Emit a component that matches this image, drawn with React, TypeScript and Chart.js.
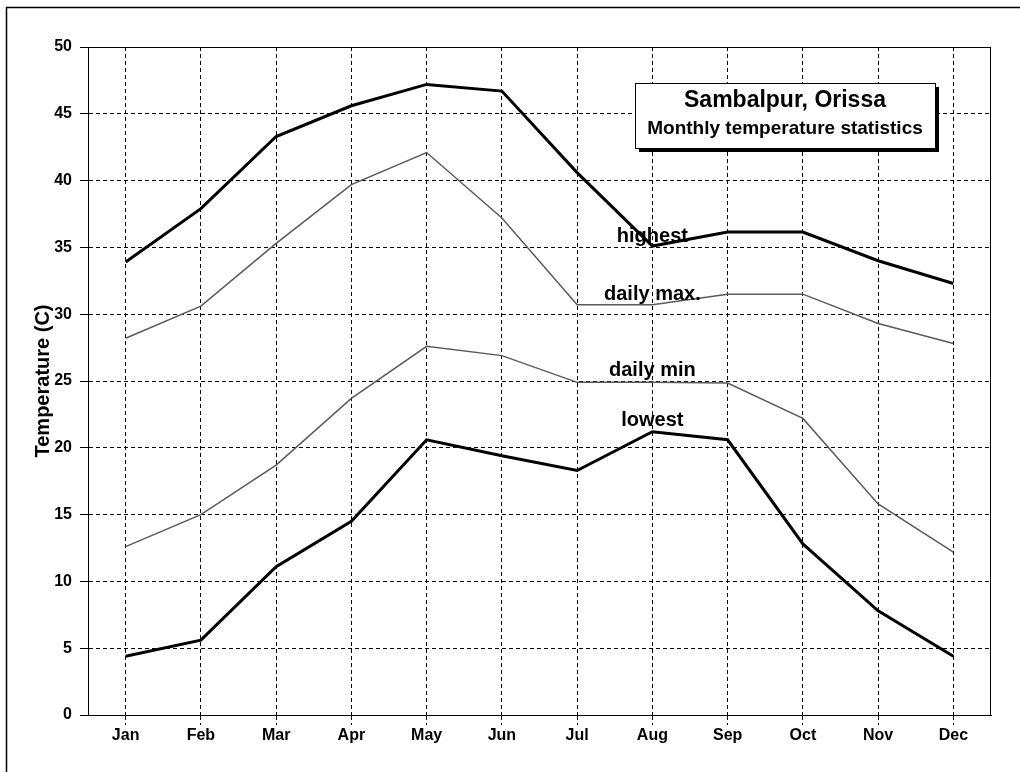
import React, { useEffect, useRef } from "react";
import { Chart, registerables } from "chart.js";

Chart.register(...registerables);

const months = ["Jan", "Feb", "Mar", "Apr", "May", "Jun", "Jul", "Aug", "Sep", "Oct", "Nov", "Dec"];
const highest = [33.9, 37.9, 43.3, 45.6, 47.2, 46.7, 40.6, 35.1, 36.15, 36.15, 34.0, 32.3];
const dailyMax = [28.2, 30.6, 35.3, 39.7, 42.1, 37.2, 30.7, 30.7, 31.5, 31.5, 29.3, 27.8];
const dailyMin = [12.6, 15.0, 18.7, 23.7, 27.6, 26.9, 24.9, 24.9, 24.85, 22.2, 15.8, 12.2];
const lowest = [4.4, 5.6, 11.1, 14.5, 20.6, 19.4, 18.3, 21.2, 20.6, 12.8, 7.8, 4.4];

const seriesNames = ["highest", "daily max.", "daily min", "lowest"];
const seriesLabelValues = [35.4, 31.1, 25.4, 21.6];
const seriesLabelMonth = "Aug";

const yMin = 0;
const yMax = 50;
const yStep = 5;

const titleText = "Sambalpur, Orissa";
const subtitleText = "Monthly temperature statistics";
const yAxisTitle = "Temperature (C)";

const FONT = "'Liberation Sans', Arial, sans-serif";

const decorPlugin = {
  id: "decor",
  beforeDraw(chart: any) {
    const ctx = chart.ctx;
    ctx.save();
    ctx.fillStyle = "#ffffff";
    ctx.fillRect(0, 0, chart.width, chart.height);
    ctx.strokeStyle = "#000000";
    ctx.lineWidth = 1.5;
    ctx.beginPath();
    ctx.moveTo(6.5, chart.height);
    ctx.lineTo(6.5, 7.5);
    ctx.lineTo(chart.width, 7.5);
    ctx.stroke();
    ctx.restore();
  },
  beforeDatasetsDraw(chart: any) {
    const ctx = chart.ctx;
    const a = chart.chartArea;
    ctx.save();
    ctx.strokeStyle = "#000000";
    ctx.lineWidth = 1;
    ctx.setLineDash([]);
    ctx.strokeRect(Math.round(a.left) + 0.5, Math.round(a.top) + 0.5, Math.round(a.right - a.left) - 1, Math.round(a.bottom - a.top));
    ctx.restore();
  },
  afterDatasetsDraw(chart: any) {
    const ctx = chart.ctx;
    const xs = chart.scales.x;
    const ys = chart.scales.y;
    ctx.save();
    ctx.fillStyle = "#000000";
    ctx.font = `bold 20px ${FONT}`;
    ctx.textAlign = "center";
    ctx.textBaseline = "alphabetic";
    const xi = months.indexOf(seriesLabelMonth);
    seriesNames.forEach((name, i) => {
      ctx.fillText(name, xs.getPixelForValue(xi), ys.getPixelForValue(seriesLabelValues[i]));
    });

    // title box
    const bx = 635, by = 83, bw = 300, bh = 65;
    ctx.fillStyle = "#000000";
    ctx.fillRect(bx + 4, by + 4, bw, bh);
    ctx.fillStyle = "#ffffff";
    ctx.fillRect(bx, by, bw, bh);
    ctx.strokeStyle = "#000000";
    ctx.lineWidth = 1;
    ctx.setLineDash([]);
    ctx.strokeRect(bx + 0.5, by + 0.5, bw, bh);
    ctx.fillStyle = "#000000";
    ctx.font = `bold 23px ${FONT}`;
    ctx.fillText(titleText, bx + bw / 2, 107);
    ctx.font = `bold 19px ${FONT}`;
    ctx.fillText(subtitleText, bx + bw / 2, 134);
    ctx.restore();
  },
};

export default function App() {
  const ref = useRef<HTMLCanvasElement | null>(null);

  useEffect(() => {
    if (!ref.current) return;
    const black = "#000000";
    const gray = "#5a5a5a";
    const chart = new Chart(ref.current, {
      type: "line",
      data: {
        labels: months,
        datasets: [
          { label: seriesNames[0], data: highest, borderColor: black, borderWidth: 3, pointRadius: 0, tension: 0, fill: false },
          { label: seriesNames[1], data: dailyMax, borderColor: gray, borderWidth: 1.5, pointRadius: 0, tension: 0, fill: false },
          { label: seriesNames[2], data: dailyMin, borderColor: gray, borderWidth: 1.5, pointRadius: 0, tension: 0, fill: false },
          { label: seriesNames[3], data: lowest, borderColor: black, borderWidth: 3, pointRadius: 0, tension: 0, fill: false },
        ],
      },
      options: {
        responsive: false,
        animation: false,
        events: [],
        layout: { padding: { left: 0, top: 47, right: 29, bottom: 0 } },
        plugins: {
          legend: { display: false },
          tooltip: { enabled: false },
          title: { display: false },
        },
        scales: {
          x: {
            type: "category",
            offset: true,
            grid: {
              offset: false,
              color: black,
              lineWidth: 1,
              tickBorderDash: [4, 3],
              tickLength: 10,
              tickColor: black,
              drawOnChartArea: true,
            },
            border: { display: true, color: black, width: 1, dash: [4, 3] },
            ticks: {
              color: black,
              font: { family: FONT, size: 16, weight: "bold" },
              padding: 1,
              maxRotation: 0,
              autoSkip: false,
            },
            afterFit: (s: any) => {
              s.height = 57;
            },
          },
          y: {
            min: yMin,
            max: yMax,
            grid: {
              color: black,
              lineWidth: 1,
              tickBorderDash: [],
              tickLength: 8,
              tickColor: black,
            },
            border: { display: true, color: black, width: 1, dash: [4, 3] },
            ticks: {
              stepSize: yStep,
              color: black,
              font: { family: FONT, size: 16, weight: "bold" },
              padding: 8,
            },
            title: {
              display: true,
              text: yAxisTitle,
              color: black,
              font: { family: FONT, size: 20, weight: "bold" },
              padding: { top: 31, bottom: 0 },
            },
            afterFit: (s: any) => {
              s.width = 88;
            },
          },
        },
      },
      plugins: [decorPlugin],
    } as any);
    return () => chart.destroy();
  }, []);

  return (
    <div style={{ position: "absolute", left: 0, top: 0, width: 1020, height: 772, background: "#fff" }}>
      <canvas ref={ref} width={1020} height={772} style={{ display: "block" }} />
    </div>
  );
}
